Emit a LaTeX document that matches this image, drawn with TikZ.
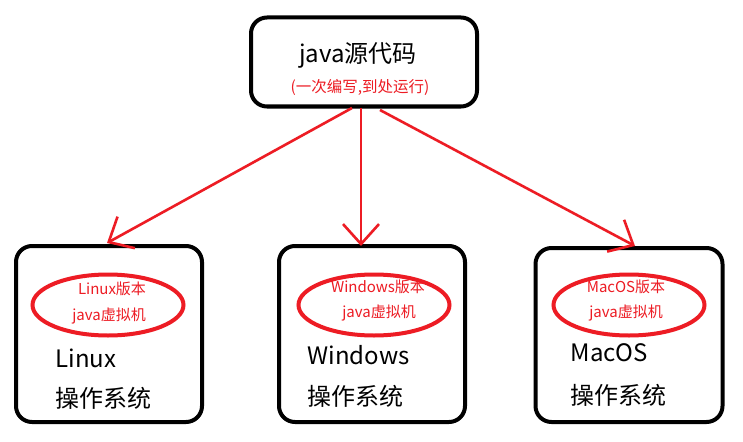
\documentclass[tikz,border=0pt]{standalone}
\usepackage{fontspec}
\setmainfont{Noto Sans CJK SC}
\usetikzlibrary{arrows.meta,shapes.geometric}
\definecolor{pred}{HTML}{ED1C24}
\begin{document}
\begin{tikzpicture}[x=1pt,y=-1pt,
  box/.style={draw=black,line width=4pt,rounded corners=16pt},
  vm/.style={draw=pred,line width=4pt,ellipse,minimum width=151pt,minimum height=61pt,inner sep=0pt},
  arr/.style={draw=pred,line width=2.6pt,-{Straight Barb[length=20pt,width=36pt,line width=2.6pt]}},
  vmtext/.style={text=pred,font=\fontsize{15}{17}\selectfont},
  ostext/.style={anchor=west,font=\fontsize{24}{27}\selectfont}]
\useasboundingbox (0,0) rectangle (743,441);
\fill[white] (0,0) rectangle (743,441);
% top box
\node[box,minimum width=226pt,minimum height=89pt] (src) at (364,62) {};
\node[font=\fontsize{24}{27}\selectfont] (srct) at (358,55) {java源代码};
\node[text=pred,font=\fontsize{15.5}{18}\selectfont] (srcs) at (360,87) {(一次编写,到处运行)};
% bottom boxes
\node[box,minimum width=186pt,minimum height=176pt] (lin) at (109,334) {};
\node[box,minimum width=186pt,minimum height=176pt] (win) at (372,334) {};
\node[box,minimum width=187pt,minimum height=174pt] (mac) at (629,335) {};
% ellipses
\node[vm] (linvm) at (108,305) {};
\node[vm] (winvm) at (374,305) {};
\node[vm] (macvm) at (629,305) {};
\node[vmtext] at (112,289) {Linux版本};
\node[vmtext] at (109,316) {java虚拟机};
\node[vmtext] at (378,287) {Windows版本};
\node[vmtext] at (379,313) {java虚拟机};
\node[vmtext] at (626,287) {MacOS版本};
\node[vmtext] at (626,313) {java虚拟机};
% os labels
\node[ostext] at (52,358) {Linux};
\node[ostext] at (52,398) {操作系统};
\node[ostext] at (304,355) {Windows};
\node[ostext] at (304,396) {操作系统};
\node[ostext] at (567,353) {MacOS};
\node[ostext] at (567,395) {操作系统};
% arrows
\coordinate (a1) at (352,108);
\coordinate (a2) at (361,108);
\coordinate (a3) at (380,110);
\coordinate (t1) at (107,243);
\coordinate (t2) at (361,246);
\coordinate (t3) at (635,246);
\draw[arr] (a1) -- (t1);
\draw[arr] (a2) -- (t2);
\draw[arr] (a3) -- (t3);
\end{tikzpicture}
\end{document}
